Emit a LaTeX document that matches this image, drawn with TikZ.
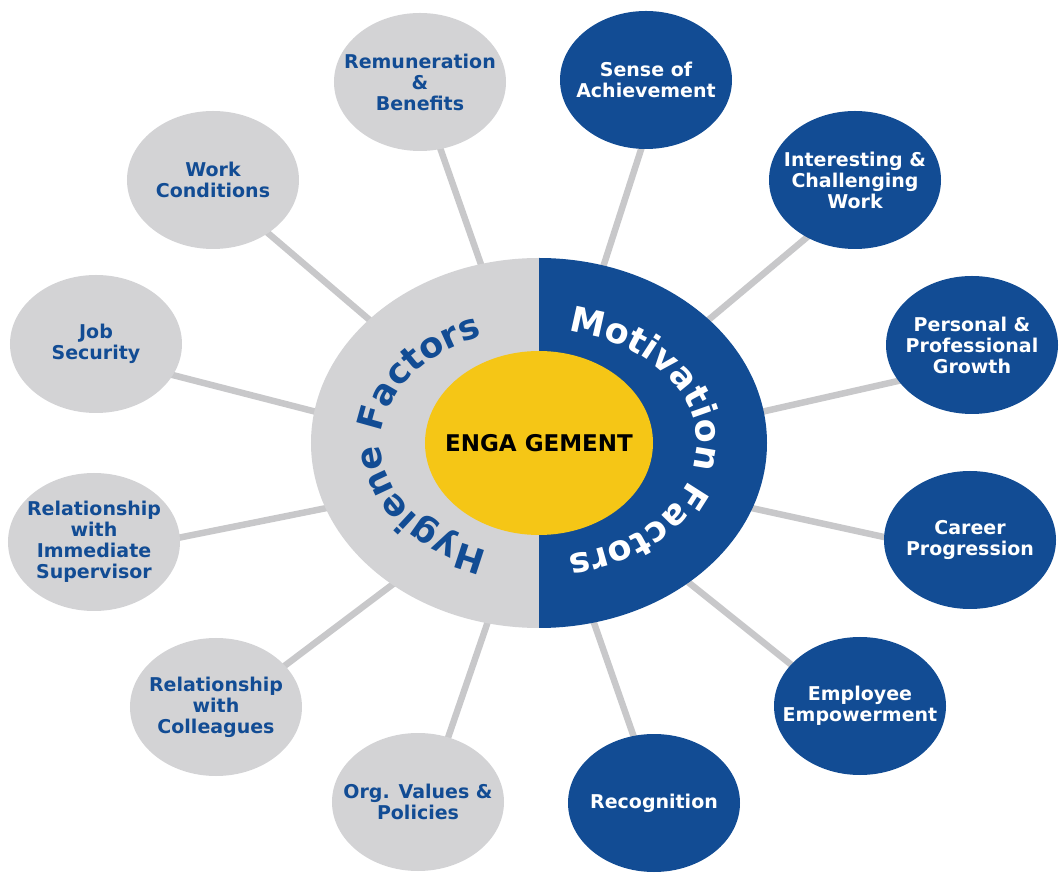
\documentclass[tikz,border=0pt]{standalone}
\usepackage{fontspec}
\setmainfont{DejaVu Sans}
\usetikzlibrary{shapes.geometric}
\usetikzlibrary{decorations.text}
\usetikzlibrary{backgrounds}

\definecolor{hubblue}{RGB}{18,76,148}
\definecolor{hubgrey}{RGB}{211,211,213}
\definecolor{linkgrey}{RGB}{200,200,202}
\definecolor{coreyellow}{RGB}{245,198,22}

\newcommand{\ringfont}{\fontsize{35}{35}\selectfont\bfseries}

\begin{document}
\begin{tikzpicture}[x=1pt, y=1pt,
    hyg/.style={ellipse, fill=hubgrey, minimum width=172pt, minimum height=138pt, inner sep=0pt},
    mot/.style={ellipse, fill=hubblue, minimum width=172pt, minimum height=138pt, inner sep=0pt},
    hygtxt/.style={align=center, text=hubblue, font=\fontsize{19}{21}\selectfont\bfseries},
    mottxt/.style={align=center, text=white, font=\fontsize{19}{21}\selectfont\bfseries},
    link/.style={draw=linkgrey, line width=6.5pt, shorten <=-8pt, shorten >=-8pt}]

\useasboundingbox (-539,-431) rectangle (520,443);

% Central hub
\node[ellipse, minimum width=456pt, minimum height=370pt, inner sep=0pt, outer sep=0pt] (hub) at (0,0) {};
\fill[hubgrey] (0,185) arc[start angle=90, end angle=270, x radius=228pt, y radius=185pt] -- cycle;
\fill[hubblue] (0,-185) arc[start angle=-90, end angle=90, x radius=228pt, y radius=185pt] -- cycle;

% Ring titles
\path[decorate, decoration={text along path, text={|\ringfont|Hygiene Factors}, text color=hubblue, text align=center}]
    (0,0) ++(252:158pt and 114pt) arc[start angle=252, end angle=110, x radius=158pt, y radius=114pt];
\path[decorate, decoration={text along path, text={|\ringfont|Motivation Factors}, text color=white, text align=center}]
    (0,0) ++(80:158pt and 114pt) arc[start angle=80, end angle=-80, x radius=158pt, y radius=114pt];

% Core
\node[ellipse, fill=coreyellow, minimum width=228pt, minimum height=184pt, inner sep=0pt,
      label={[font=\fontsize{23}{23}\selectfont\bfseries]center:ENGA GEMENT}] (core) at (0,0) {};

% Hygiene factors
\foreach \nm/\x/\y/\lbl in {rem/-119/361/{Remuneration\\\&\\Benefits},
                            work/-326/263/{Work\\Conditions},
                            job/-443/99/{Job\\Security},
                            sup/-445/-99/{Relationship\\with\\Immediate\\Supervisor},
                            coll/-323/-264/{Relationship\\with\\Colleagues},
                            org/-121/-359/{Org. Values \&\\Policies}} {
    \node[hyg, label={[hygtxt]center:\lbl}] (\nm) at (\x,\y) {};
}

% Motivation factors
\foreach \nm/\x/\y/\lbl in {sense/107/363/{Sense of\\Achievement},
                            inter/316/263/{Interesting \&\\Challenging\\Work},
                            pers/433/98/{Personal \&\\Professional\\Growth},
                            career/431/-97/{Career\\Progression},
                            emp/321/-263/{Employee\\Empowerment},
                            recog/115/-360/{Recognition}} {
    \node[mot, label={[mottxt]center:\lbl}] (\nm) at (\x,\y) {};
}

% Connections from hub to factors
\begin{scope}[on background layer]
\foreach \nm/\a/\b in {rem/108/287, sense/70/266, work/144/316, inter/36/230,
                       job/172/338, pers/8/206, sup/197/3, career/343/178,
                       coll/224/31, org/254/65, recog/287/107, emp/317/149} {
    \draw[link] (hub.\a) -- (\nm.\b);
}
\end{scope}

\end{tikzpicture}
\end{document}
